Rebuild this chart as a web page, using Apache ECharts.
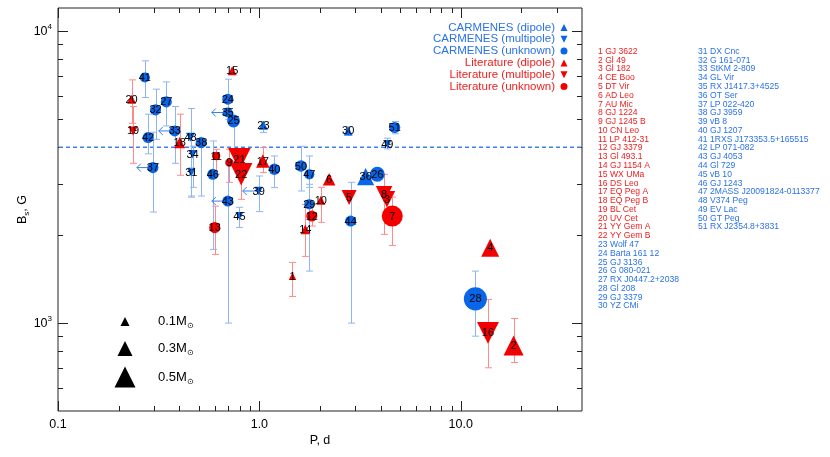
<!DOCTYPE html>
<html>
<head>
<meta charset="utf-8">
<script src="https://cdn.jsdelivr.net/npm/echarts@6/dist/echarts.min.js"></script>
<style>
html, body { margin: 0; padding: 0; background: #fff; }
#chart { width: 830px; height: 457px; }
</style>
</head>
<body>
<div id="chart"></div>
<script>
// star list, index = id - 1
const starNames = [
  'GJ 3622', 'Gl 49', 'Gl 182', 'CE Boo', 'DT Vir', 'AD Leo', 'AU Mic', 'GJ 1224', 'GJ 1245 B', 'CN Leo',
  'LP 412-31', 'GJ 3379', 'Gl 493.1', 'GJ 1154 A', 'WX UMa', 'DS Leo', 'EQ Peg A', 'EQ Peg B', 'BL Cet', 'UV Cet',
  'YY Gem A', 'YY Gem B', 'Wolf 47', 'Barta 161 12', 'GJ 3136', 'G 080-021', 'RX J0447.2+2038', 'Gl 208', 'GJ 3379', 'YZ CMi',
  'DX Cnc', 'G 161-071', 'StKM 2-809', 'GL Vir', 'RX J1417.3+4525', 'OT Ser', 'LP 022-420', 'GJ 3959', 'vB 8', 'GJ 1207',
  '1RXS J173353.5+165515', 'LP 071-082', 'GJ 4053', 'Gl 729', 'vB 10', 'GJ 1243', '2MASS J20091824-0113377', 'V374 Peg', 'EV Lac', 'GT Peg',
  'RX J2354.8+3831',
]
// rotation period, d
const periods = [
  1.46, 18.3, 4.30, 14.0, 2.79, 2.22, 4.57, 4.16, 0.71, 2.02,
  0.61, 1.82, 0.60, 1.69, 0.733, 13.65, 1.04, 0.402, 0.236, 0.232,
  0.796, 0.812, 1.047, 0.697, 0.744, 3.85, 0.345, 11.82, 1.77, 2.76,
  0.459, 0.305, 0.380, 0.466, 0.697, 3.37, 0.296, 0.514, 0.992, 1.187,
  0.270, 0.280, 0.697, 2.84, 0.796, 0.587, 1.77, 0.455, 4.32, 1.608,
  4.70,
]
// surface field Bs, G
const fields = [
  1448, 838, 2654, 1812, 2690, 3108, 2326, 2761, 3546, 2633,
  3736, 2326, 2123, 2094, 7310, 926, 3591, 4152, 4551, 5846,
  3640, 3233, 4761, 5846, 4925, 3233, 5722, 1211, 2551, 4551,
  3277, 5373, 4551, 3786, 5263, 3175, 3409, 4152, 2834, 3363,
  6937, 4320, 2618, 2236, 2326, 3233, 3233, 4330, 4098, 3452,
  4676,
]
// stellar mass, Msun
const masses = [
  0.05, 0.47, 0.35, 0.40, 0.30, 0.22, 0.50, 0.35, 0.08, 0.10,
  0.08, 0.17, 0.17, 0.12, 0.10, 0.53, 0.25, 0.17, 0.10, 0.10,
  0.55, 0.55, 0.10, 0.17, 0.23, 0.30, 0.17, 0.57, 0.14, 0.10,
  0.07, 0.17, 0.17, 0.08, 0.14, 0.37, 0.17, 0.17, 0.08, 0.18,
  0.14, 0.17, 0.17, 0.17, 0.07, 0.17, 0.14, 0.10, 0.08, 0.18,
  0.17,
]
// Ld/Lm/Lu = literature dipole/multipole/unknown, Cd/Cm/Cu = CARMENES
const groups = [
  'Ld', 'Ld', 'Lm', 'Ld', 'Lm', 'Ld', 'Lu', 'Lm', 'Lu', 'Ld',
  'Lu', 'Lu', 'Lu', 'Ld', 'Ld', 'Lm', 'Ld', 'Ld', 'Lm', 'Ld',
  'Lm', 'Lm', 'Cd', 'Cu', 'Cu', 'Cu', 'Cu', 'Cu', 'Cu', 'Cd',
  'Cm', 'Cu', 'Cu', 'Cm', 'Cu', 'Cd', 'Cu', 'Cu', 'Cm', 'Cu',
  'Cu', 'Cu', 'Cu', 'Cu', 'Cm', 'Cu', 'Cu', 'Cm', 'Cm', 'Cu',
  'Cu',
]
// error bars on Bs, null = none drawn
const fieldLow = [
  1234, 733, null, null, null, null, 1845, 2013, 3035, 2213,
  3238, 2150, 1719, 1692, null, 703, 3277, 3208, 3526, 4835,
  null, 2654, 4500, 4992, 3900, null, 4734, 902, 1507, 4400,
  2700, 4259, 3526, 2917, null, null, 2401, 2724, 2409, 2911,
  5924, 3800, 1000, 1000, 2127, 1788, 2917, 2724, 3950, 2834,
  4450,
]
const fieldHigh = [
  1614, 1037, null, null, null, null, 2700, 3233, 3938, 2917,
  3938, 2550, 2517, 2549, null, 1205, 3992, 5193, 5519, 6808,
  null, 3233, 4900, 6845, 5000, null, 6700, 1507, 2988, 4700,
  3400, 6327, 5519, 4037, null, null, 4505, 4205, 3190, 3736,
  7910, 5193, 3500, 3035, 2492, 4205, 3736, 5431, 4300, 4033,
  4900,
]
// stars whose period is an upper limit (arrow to the left)
const periodUpperLimits = [33, 35, 37, 39, 43]

const fieldThreshold = 4000
const xMajorTicks = [0.1, 1, 10]
const xMinorTicks = [0.2, 0.3, 0.4, 0.5, 0.6, 0.7, 0.8, 0.9, 2, 3, 4, 5, 6, 7, 8, 9, 20, 30]
const yMajorTicks = [1000, 10000]
const yMinorTicks = [600, 700, 800, 900, 2000, 3000, 4000, 5000, 6000, 7000, 8000, 9000]
const legendMasses = [0.1, 0.3, 0.5]

const groupInfo = [
  { key: 'Cd', name: 'CARMENES (dipole)', color: '#0a66e8', text: '#2a72ea', down: false, circle: false },
  { key: 'Cm', name: 'CARMENES (multipole)', color: '#0a66e8', text: '#2a72ea', down: true, circle: false },
  { key: 'Cu', name: 'CARMENES (unknown)', color: '#0a66e8', text: '#2a72ea', down: false, circle: true },
  { key: 'Ld', name: 'Literature (dipole)', color: '#f40000', text: '#f02020', down: false, circle: false },
  { key: 'Lm', name: 'Literature (multipole)', color: '#f40000', text: '#f02020', down: true, circle: false },
  { key: 'Lu', name: 'Literature (unknown)', color: '#f40000', text: '#f02020', down: false, circle: true },
]

const FONT = '"Liberation Sans", Arial, Helvetica, sans-serif'
const sizeOf = (m) => 6 + 30 * m
const isBlue = (g) => g[0] === 'C'

const chart = echarts.init(document.getElementById('chart'))

const stars = starNames.map((name, i) => ({
  id: i + 1, name, p: periods[i], b: fields[i], m: masses[i], g: groups[i],
  lo: fieldLow[i], hi: fieldHigh[i],
}))

// error bars
const errData = stars.filter((s) => s.lo != null).map((s) => [s.p, s.lo, s.hi, isBlue(s.g) ? 1 : 0])
const errSeries = {
  type: 'custom',
  z: 2,
  silent: true,
  data: errData,
  encode: { x: 0, y: [1, 2] },
  renderItem(params, api) {
    const top = api.coord([api.value(0), api.value(2)])
    const bot = api.coord([api.value(0), api.value(1)])
    const color = api.value(3) ? '#8fb5f5' : '#ff8a8a'
    const style = { stroke: color, lineWidth: 1 }
    const x = Math.round(top[0]) + 0.5
    return {
      type: 'group',
      children: [
        { type: 'line', shape: { x1: x, y1: top[1], x2: x, y2: bot[1] }, style },
        { type: 'line', shape: { x1: x - 3.5, y1: top[1], x2: x + 3.5, y2: top[1] }, style },
        { type: 'line', shape: { x1: x - 3.5, y1: bot[1], x2: x + 3.5, y2: bot[1] }, style },
      ],
    }
  },
}

// left arrows for period upper limits
const arrowData = stars.filter((s) => periodUpperLimits.includes(s.id)).map((s) => [s.p, s.b])
const arrowSeries = {
  type: 'custom',
  z: 2,
  silent: true,
  data: arrowData,
  renderItem(params, api) {
    const pt = api.coord([api.value(0), api.value(1)])
    const style = { stroke: '#3a7ee8', lineWidth: 1, fill: null }
    const x0 = pt[0] - 16
    return {
      type: 'group',
      children: [
        { type: 'line', shape: { x1: pt[0], y1: pt[1], x2: x0, y2: pt[1] }, style },
        { type: 'polyline', shape: { points: [[x0 + 4, pt[1] - 4], [x0, pt[1]], [x0 + 4, pt[1] + 4]] }, style },
      ],
    }
  },
}

// dashed 4 kG line across the plot
const thresholdSeries = {
  type: 'custom',
  z: 2,
  silent: true,
  clip: false,
  data: [[1, fieldThreshold]],
  renderItem(params, api) {
    const cs = params.coordSys
    const y = api.coord([1, api.value(1)])[1]
    return {
      type: 'line',
      shape: { x1: cs.x + 1, y1: y, x2: cs.x + cs.width - 1, y2: y },
      style: { stroke: '#3f80ea', lineWidth: 1.6, lineDash: [4, 3] },
    }
  },
}

const scatterSeries = groupInfo.map((gi) => ({
  type: 'scatter',
  name: gi.name,
  z: 3,
  symbol: gi.circle ? 'circle' : 'triangle',
  symbolRotate: gi.down ? 180 : 0,
  symbolSize: (v) => sizeOf(v[2]),
  itemStyle: { color: gi.color, opacity: 1 },
  data: stars.filter((s) => s.g === gi.key).map((s) => [s.p, s.b, s.m, s.id]),
}))

// star numbers on top of the markers
const labelSeries = {
  type: 'custom',
  z: 5,
  silent: true,
  data: stars.map((s) => [s.p, s.b, s.id]),
  renderItem(params, api) {
    const pt = api.coord([api.value(0), api.value(1)])
    return {
      type: 'text',
      style: {
        text: String(api.value(2)), x: pt[0], y: pt[1] + 0.5,
        align: 'center', verticalAlign: 'middle',
        fill: '#000', fontSize: 11, fontFamily: FONT,
      },
    }
  },
}

// inside ticks on all four sides
const tickData = []
xMajorTicks.forEach((v) => tickData.push([v, 1000, 0, 1]))
xMinorTicks.forEach((v) => tickData.push([v, 1000, 0, 0]))
yMajorTicks.forEach((v) => tickData.push([1, v, 1, 1]))
yMinorTicks.forEach((v) => tickData.push([1, v, 1, 0]))
const tickSeries = {
  type: 'custom',
  z: 1,
  silent: true,
  clip: false,
  data: tickData,
  renderItem(params, api) {
    const cs = params.coordSys
    const pt = api.coord([api.value(0), api.value(1)])
    const len = api.value(3) ? 10 : 5
    const style = { stroke: '#222', lineWidth: 1 }
    if (api.value(2) === 0) {
      const x = Math.round(pt[0]) + 0.5
      const yb = cs.y + cs.height
      return {
        type: 'group',
        children: [
          { type: 'line', shape: { x1: x, y1: yb, x2: x, y2: yb - len }, style },
          { type: 'line', shape: { x1: x, y1: cs.y, x2: x, y2: cs.y + len }, style },
        ],
      }
    }
    const y = Math.round(pt[1]) + 0.5
    const xr = cs.x + cs.width
    return {
      type: 'group',
      children: [
        { type: 'line', shape: { x1: cs.x, y1: y, x2: cs.x + len, y2: y }, style },
        { type: 'line', shape: { x1: xr, y1: y, x2: xr - len, y2: y }, style },
      ],
    }
  },
}

const isPow10 = (v) => Math.abs(Math.log10(v) - Math.round(Math.log10(v))) < 1e-6

// legend, top right corner of the plot
const legendGraphics = []
groupInfo.forEach((gi, k) => {
  const y = 27.5 + k * 11.8
  legendGraphics.push({
    type: 'text', x: 555, y,
    style: { text: gi.name, fill: gi.text, fontSize: 11.5, fontFamily: FONT, align: 'right', verticalAlign: 'middle' },
  })
  const s = 7
  if (gi.circle) {
    legendGraphics.push({ type: 'circle', shape: { cx: 564, cy: y, r: s / 2 }, style: { fill: gi.color } })
  } else {
    const pts = gi.down
      ? [[564 - s / 2, y - s / 2], [564 + s / 2, y - s / 2], [564, y + s / 2]]
      : [[564, y - s / 2], [564 + s / 2, y + s / 2], [564 - s / 2, y + s / 2]]
    legendGraphics.push({ type: 'polygon', shape: { points: pts }, style: { fill: gi.color } })
  }
})

// mass size key, lower left
legendMasses.forEach((m, k) => {
  const y = [321.5, 348.5, 377][k]
  const s = sizeOf(m)
  legendGraphics.push({
    type: 'polygon',
    shape: { points: [[125, y - s / 2], [125 + s / 2, y + s / 2], [125 - s / 2, y + s / 2]] },
    style: { fill: '#000' },
  })
  legendGraphics.push({
    type: 'text', x: 158, y,
    style: {
      text: m.toFixed(1) + 'M{s|⊙}',
      fill: '#000', fontSize: 13, fontFamily: FONT, verticalAlign: 'middle',
      rich: { s: { fontSize: 8, fontFamily: FONT, fill: '#000', padding: [9, 0, 0, 0] } },
    },
  })
})

// numbered star list to the right
starNames.forEach((name, i) => {
  const col = i < 30 ? 0 : 1
  const row = col ? i - 30 : i
  legendGraphics.push({
    type: 'text', x: col ? 698 : 598, y: 51.5 + row * 8.78,
    style: {
      text: (i + 1) + ' ' + name,
      fill: i < 22 ? '#f02020' : '#2a72ea',
      fontSize: 8.6, fontFamily: FONT, verticalAlign: 'middle',
    },
  })
})

chart.setOption({
  animation: false,
  backgroundColor: '#fff',
  grid: {
    left: 58, right: 248, top: 8, bottom: 46,
    show: true, borderColor: '#222', borderWidth: 1,
    outerBoundsMode: 'none',
  },
  xAxis: {
    type: 'log',
    logBase: 10,
    min: 0.1,
    max: 40,
    name: 'P, d',
    nameLocation: 'middle',
    nameGap: 23,
    nameMoveOverlap: false,
    nameTextStyle: { color: '#000', fontSize: 12.5, fontFamily: FONT },
    axisLine: { show: false },
    axisTick: { show: false },
    splitLine: { show: false },
    axisLabel: {
      color: '#000', fontSize: 12.5, fontFamily: FONT, margin: 7,
      showMinLabel: true, showMaxLabel: false,
      formatter: (v) => (isPow10(v) && v < 20 ? (v < 1 ? v.toPrecision(1) : v.toFixed(1)) : ''),
    },
  },
  yAxis: {
    type: 'log',
    logBase: 10,
    min: 500,
    max: 12000,
    name: 'B{sub|s}, G',
    nameLocation: 'middle',
    nameRotate: 90,
    nameGap: 27,
    nameMoveOverlap: false,
    nameTextStyle: {
      color: '#000', fontSize: 12.5, fontFamily: FONT,
      rich: { sub: { fontSize: 8, fontFamily: FONT, color: '#000', padding: [8, 0, 0, 0] } },
    },
    axisLine: { show: false },
    axisTick: { show: false },
    splitLine: { show: false },
    axisLabel: {
      color: '#000', fontSize: 12.5, fontFamily: FONT, margin: 6,
      formatter: (v) => (isPow10(v) ? '10{sup|' + Math.round(Math.log10(v)) + '}' : ''),
      rich: { sup: { fontSize: 8, fontFamily: FONT, color: '#000', padding: [0, 0, 8, 0] } },
    },
  },
  graphic: legendGraphics,
  series: [tickSeries, thresholdSeries, errSeries, arrowSeries, ...scatterSeries, labelSeries],
})
</script>
</body>
</html>
